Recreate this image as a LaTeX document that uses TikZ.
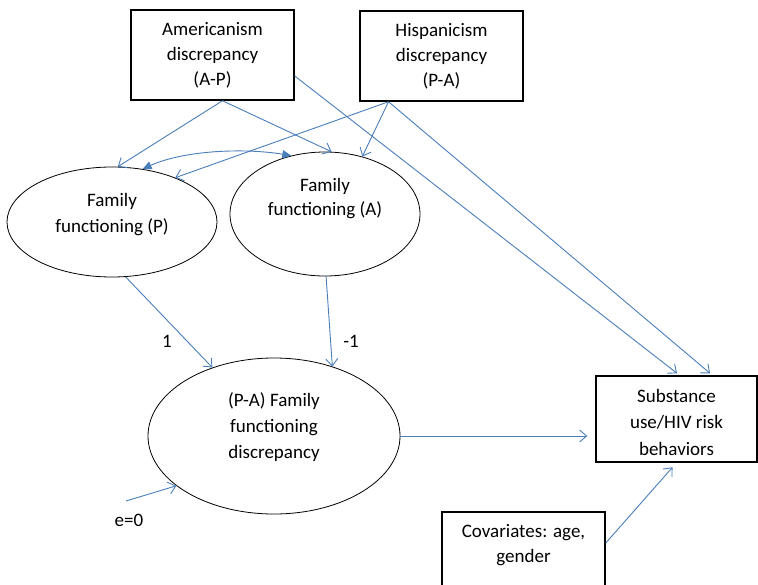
\documentclass[tikz,border=0pt]{standalone}
\usepackage{fontspec}
\setmainfont{Carlito}
\usetikzlibrary{arrows.meta,shapes.geometric}
\definecolor{lineblue}{HTML}{4A7EBB}
\tikzset{
  boxnode/.style={draw=black,line width=1.5pt,rectangle,align=center,inner sep=0pt},
  ellnode/.style={draw=black,line width=0.8pt,ellipse,inner sep=0pt},
  conn/.style={draw=lineblue,line width=0.9pt,-{Straight Barb[length=7pt,width=12pt]}},
  biconn/.style={draw=lineblue,line width=0.9pt,{Triangle[length=9pt,width=8pt]}-{Triangle[length=9pt,width=8pt]}},
  lbl/.style={inner sep=0pt}
}
\begin{document}
\begin{tikzpicture}[x=1pt,y=-1pt,font=\fontsize{19}{25}\selectfont]
\useasboundingbox (0,0) rectangle (758,584);
\clip (0,0) rectangle (758,584);
% boxes
\node[boxnode,minimum width=163pt,minimum height=90pt] (amer) at (212.5,55) {Americanism\\discrepancy\\(A-P)};
\node[boxnode,minimum width=163pt,minimum height=90pt] (hisp) at (441.5,56) {Hispanicism\\discrepancy\\(P-A)};
\node[boxnode,minimum width=161pt,minimum height=86pt,label={[align=center,font=\fontsize{19}{26.5}\selectfont,yshift=-3pt]center:Substance\\use/HIV risk\\behaviors}] (sub) at (676.5,419) {};
\node[boxnode,minimum width=163pt,minimum height=88pt,label={[align=center,yshift=11pt]center:Covariates: age,\\gender}] (cov) at (523.5,556) {};
% ellipses
\node[ellnode,minimum width=210pt,minimum height=110pt,label={[align=center,font=\fontsize{19}{26}\selectfont,yshift=7pt]center:Family\\functioning (P)}] (fp) at (112,222) {};
\node[ellnode,minimum width=190pt,minimum height=124pt,label={[align=center,font=\fontsize{19}{24}\selectfont,yshift=15pt]center:Family\\functioning (A)}] (fa) at (325,214) {};
\node[ellnode,minimum width=252pt,minimum height=156pt,label={[align=center,font=\fontsize{19}{26}\selectfont,yshift=9pt]center:(P-A) Family\\functioning\\discrepancy}] (pa) at (274,436) {};
% labels
\node[lbl] (one) at (167,341) {1};
\node[lbl] (mone) at (351,341) {-1};
\node[lbl] (elbl) at (129,520) {e=0};
\coordinate (e0) at (126,501);
% connectors
\draw[conn] ([xshift=10pt]amer.south) -- (fp.84);
\draw[conn] ([xshift=10pt]amer.south) -- (fa.84);
\draw[conn] ([yshift=-21pt]amer.east) -- ([xshift=0.5pt,yshift=2pt]sub.north);
\draw[conn] ([xshift=-53pt]hisp.south) -- (fp.35.5);
\draw[conn] ([xshift=-53pt]hisp.south) -- (fa.57);
\draw[conn] ([xshift=-53pt]hisp.south) -- ([xshift=33.5pt,yshift=2pt]sub.north);
\draw[biconn] (fp.60) .. controls (185,150) and (245,148) .. (fa.120);
\draw[conn] (fp.-76) -- (pa.132);
\draw[conn] (fa.-89) -- (pa.50);
\draw[conn] (e0) -- (pa.207);
\draw[conn,shorten >=8pt] (pa.east) -- (sub.west |- pa.east);
\draw[conn,shorten >=6pt] ([yshift=13pt]cov.east) -- (sub.south);
\end{tikzpicture}
\end{document}
